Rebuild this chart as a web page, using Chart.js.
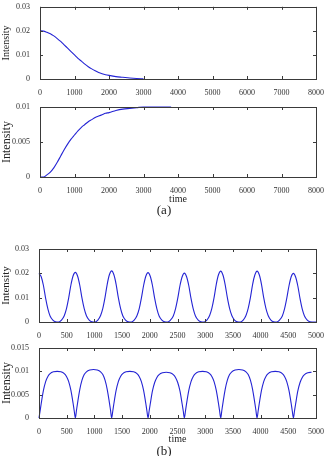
<!DOCTYPE html>
<html>
<head>
<meta charset="utf-8">
<script src="https://cdn.jsdelivr.net/npm/chart.js@4.4.1/dist/chart.umd.min.js"></script>
<style>
  html, body { margin: 0; padding: 0; background: #fff; }
  body { width: 328px; height: 456px; position: relative; overflow: hidden; }
  .box { position: absolute; left: 0; width: 328px; }
  .cap { position: absolute; left: 0; width: 328px; text-align: center;
         font-family: "Liberation Serif", serif; font-size: 13px; color: #222; }
</style>
</head>
<body>
<div class="box" style="top:0;height:96px"><canvas id="p1"></canvas></div>
<div class="box" style="top:100px;height:105px"><canvas id="p2"></canvas></div>
<div class="cap" style="top:202px">(a)</div>
<div class="box" style="top:240px;height:100px"><canvas id="p3"></canvas></div>
<div class="box" style="top:340px;height:105px"><canvas id="p4"></canvas></div>
<div class="cap" style="top:443px">(b)</div>

<script>
// (a) top: single pulse decaying
const tDecay = [0,100,200,300,400,500,600,700,800,900,1000,1100,1200,1300,1400,1500,1600,1700,1800,1900,2000,2200,2400,2600,2800,3000];
const iDecay = [0.0200,0.0199,0.0194,0.0188,0.0179,0.0168,0.0156,0.0142,0.0128,0.0114,0.0100,0.0086,0.0074,0.0062,0.0051,0.0042,0.0034,0.0027,0.0022,0.0018,0.0015,0.0010,0.0007,0.0004,0.0002,0.0001];

// (a) bottom: rising to saturation
const tRise = [0,100,200,300,400,500,600,700,800,900,1000,1100,1200,1300,1400,1500,1600,1700,1800,1900,2000,2200,2400,2600,2800,3000,3400,3800];
const iRise = [0,0.0000,0.0003,0.0007,0.0013,0.0021,0.0030,0.0039,0.0047,0.0054,0.0060,0.0066,0.0071,0.0075,0.0079,0.0082,0.0085,0.0087,0.0089,0.0091,0.0092,0.0095,0.0097,0.0098,0.0099,0.0100,0.0100,0.0100];

// (b) top: periodic peaks
const tPeaks = [0,40,80,120,160,200,250,300,
  356,406,456,496,536,576,616,656,696,736,776,816,856,906,956,
  1012,1062,1112,1152,1192,1232,1272,1312,1352,1392,1432,1472,1512,1562,1612,
  1668,1718,1768,1808,1848,1888,1928,1968,2008,2048,2088,2128,2168,2218,2268,
  2324,2374,2424,2464,2504,2544,2584,2624,2664,2704,2744,2784,2824,2874,2924,
  2980,3030,3080,3120,3160,3200,3240,3280,3320,3360,3400,3440,3480,3530,3580,
  3636,3686,3736,3776,3816,3856,3896,3936,3976,4016,4056,4096,4136,4186,4236,
  4292,4342,4392,4432,4472,4512,4552,4592,4632,4672,4712,4752,4792,4842,4892,
  5000];
const iPeaks = [0.0200,0.0186,0.0150,0.0097,0.0054,0.0025,0.0008,0.0001,
  0,0.0008,0.0026,0.0055,0.0099,0.0152,0.0190,0.0204,0.0189,0.0151,0.0098,0.0055,0.0026,0.0008,0.0001,
  0,0.0008,0.0027,0.0056,0.0101,0.0156,0.0195,0.0210,0.0194,0.0155,0.0100,0.0056,0.0026,0.0008,0.0001,
  0,0.0008,0.0026,0.0054,0.0098,0.0150,0.0188,0.0203,0.0188,0.0150,0.0097,0.0054,0.0025,0.0008,0.0001,
  0,0.0008,0.0025,0.0054,0.0097,0.0149,0.0186,0.0201,0.0186,0.0149,0.0097,0.0054,0.0025,0.0008,0.0001,
  0,0.0008,0.0027,0.0056,0.0100,0.0155,0.0194,0.0209,0.0193,0.0154,0.0100,0.0056,0.0027,0.0008,0.0001,
  0,0.0008,0.0027,0.0056,0.0100,0.0155,0.0193,0.0209,0.0194,0.0155,0.0100,0.0056,0.0027,0.0008,0.0001,
  0,0.0008,0.0025,0.0054,0.0097,0.0148,0.0186,0.0200,0.0185,0.0148,0.0096,0.0053,0.0025,0.0008,0.0001,
  0];

// (b) bottom: plateaus with dips
const tDips = [0,20,40,80,120,160,200,260,328,396,456,496,536,576,616,636,
  656,676,696,736,776,816,856,916,984,1052,1112,1152,1192,1232,1272,1292,
  1312,1332,1352,1392,1432,1472,1512,1572,1640,1708,1768,1808,1848,1888,1928,1948,
  1968,1988,2008,2048,2088,2128,2168,2228,2296,2364,2424,2464,2504,2544,2584,2604,
  2624,2644,2664,2704,2744,2784,2824,2884,2952,3020,3080,3120,3160,3200,3240,3260,
  3280,3300,3320,3360,3400,3440,3480,3540,3608,3676,3736,3776,3816,3856,3896,3916,
  3936,3956,3976,4016,4056,4096,4136,4196,4264,4332,4392,4432,4472,4512,4552,4572,
  4592,4612,4632,4672,4712,4752,4792,4852,4920,5000];
const iDips = [0,0.0015,0.0031,0.0059,0.0078,0.0089,0.0095,0.0099,0.0100,0.0099,0.0095,0.0089,0.0078,0.0059,0.0031,0.0015,
  0,0.0016,0.0032,0.0061,0.0081,0.0093,0.0099,0.0103,0.0104,0.0103,0.0099,0.0093,0.0081,0.0061,0.0032,0.0016,
  0,0.0015,0.0031,0.0059,0.0078,0.0089,0.0095,0.0099,0.0100,0.0099,0.0095,0.0089,0.0078,0.0059,0.0031,0.0015,
  0,0.0015,0.0030,0.0058,0.0076,0.0087,0.0093,0.0097,0.0098,0.0097,0.0093,0.0087,0.0076,0.0058,0.0030,0.0015,
  0,0.0015,0.0031,0.0059,0.0078,0.0089,0.0095,0.0099,0.0100,0.0099,0.0095,0.0089,0.0078,0.0059,0.0031,0.0015,
  0,0.0016,0.0032,0.0061,0.0081,0.0093,0.0099,0.0103,0.0104,0.0103,0.0099,0.0093,0.0081,0.0061,0.0032,0.0016,
  0,0.0015,0.0031,0.0059,0.0078,0.0089,0.0095,0.0099,0.0100,0.0099,0.0095,0.0089,0.0078,0.0059,0.0031,0.0015,
  0,0.0015,0.0030,0.0058,0.0076,0.0087,0.0093,0.0097,0.0098];

// tick values and labels
const xTicksA = [0,1000,2000,3000,4000,5000,6000,7000,8000];
const xLabelsA = ["0","1000","2000","3000","4000","5000","6000","7000","8000"];
const xTicksB = [0,500,1000,1500,2000,2500,3000,3500,4000,4500,5000];
const xLabelsB = ["0","500","1000","1500","2000","2500","3000","3500","4000","4500","5000"];
const yTicks03 = [0,0.01,0.02,0.03];
const yLabels03 = ["0","0.01","0.02","0.03"];
const yTicks01 = [0,0.005,0.01];
const yLabels01 = ["0","0.005","0.01"];
const yTicks015 = [0,0.005,0.01,0.015];
const yLabels015 = ["0","0.005","0.01","0.015"];

const tickFont = { family: "'Liberation Serif', serif", size: 8 };
const lineColor = "#2424d4";

// matlab style frame with inward ticks on all sides
const framePlugin = {
  id: "frame",
  afterDraw(chart) {
    const ctx = chart.ctx, a = chart.chartArea;
    const xs = chart.scales.x, ys = chart.scales.y;
    ctx.save();
    ctx.strokeStyle = "#3a3a3a";
    ctx.lineWidth = 1;
    ctx.strokeRect(Math.round(a.left) + 0.5, Math.round(a.top) + 0.5,
                   Math.round(a.right - a.left), Math.round(a.bottom - a.top));
    ctx.beginPath();
    xs.ticks.forEach(t => {
      const px = Math.round(xs.getPixelForValue(t.value)) + 0.5;
      ctx.moveTo(px, a.bottom); ctx.lineTo(px, a.bottom - 3);
      ctx.moveTo(px, a.top); ctx.lineTo(px, a.top + 3);
    });
    ys.ticks.forEach(t => {
      const py = Math.round(ys.getPixelForValue(t.value)) + 0.5;
      ctx.moveTo(a.left, py); ctx.lineTo(a.left + 3, py);
      ctx.moveTo(a.right, py); ctx.lineTo(a.right - 3, py);
    });
    ctx.stroke();
    ctx.restore();
  }
};

function makePanel(id, xs, ys, xMax, xTicks, xLabels, yMax, yTicks, yLabels, cfg) {
  const pts = xs.map((x, i) => ({ x: x, y: ys[i] }));
  return new Chart(document.getElementById(id), {
    type: "scatter",
    data: { datasets: [{
      data: pts, showLine: true, pointRadius: 0,
      borderColor: lineColor, borderWidth: 1.1,
      cubicInterpolationMode: "monotone", clip: 3
    }]},
    options: {
      responsive: true, maintainAspectRatio: false, animation: false,
      layout: { padding: { left: 0, right: 12, top: cfg.top, bottom: 0 } },
      plugins: { legend: { display: false }, tooltip: { enabled: false } },
      scales: {
        x: {
          type: "linear", min: 0, max: xMax,
          grid: { display: false }, border: { display: false },
          afterBuildTicks: s => { s.ticks = xTicks.map(v => ({ value: v })); },
          afterFit: s => { s.height = cfg.xh; },
          ticks: { font: tickFont, color: "#333", padding: 1, maxRotation: 0,
                   callback: (v, i) => xLabels[i] },
          title: { display: cfg.time, text: "time", padding: 0,
                   font: { family: "'Liberation Serif', serif", size: 10 }, color: "#222" }
        },
        y: {
          min: 0, max: yMax,
          grid: { display: false }, border: { display: false },
          afterBuildTicks: s => { s.ticks = yTicks.map(v => ({ value: v })); },
          afterFit: s => { s.width = cfg.left; },
          ticks: { font: tickFont, color: "#333", padding: 2,
                   callback: (v, i) => yLabels[i] },
          title: { display: true, text: "Intensity", padding: { top: 0, bottom: 0 },
                   font: { family: "'Liberation Serif', serif", size: cfg.ty }, color: "#222" }
        }
      }
    },
    plugins: [framePlugin]
  });
}

makePanel("p1", tDecay, iDecay, 8000, xTicksA, xLabelsA, 0.03, yTicks03, yLabels03,
  { top: 6, xh: 17, left: 40, time: false, ty: 10 });
makePanel("p2", tRise, iRise, 8000, xTicksA, xLabelsA, 0.01, yTicks01, yLabels01,
  { top: 7, xh: 28, left: 40, time: true, ty: 12 });
makePanel("p3", tPeaks, iPeaks, 5000, xTicksB, xLabelsB, 0.03, yTicks03, yLabels03,
  { top: 9, xh: 18, left: 39, time: false, ty: 11 });
makePanel("p4", tDips, iDips, 5000, xTicksB, xLabelsB, 0.015, yTicks015, yLabels015,
  { top: 8, xh: 27, left: 39, time: true, ty: 12 });
</script>
</body>
</html>
